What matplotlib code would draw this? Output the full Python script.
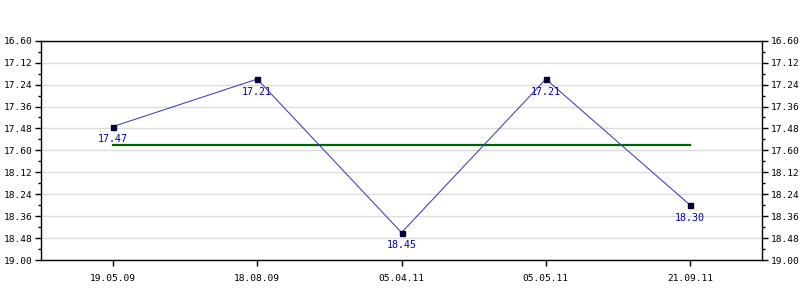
import matplotlib
matplotlib.use('Agg')
import matplotlib.pyplot as plt
from matplotlib.ticker import FixedLocator, MultipleLocator

# data (times as m.ss)
dates = ['19.05.09', '18.08.09', '05.04.11', '05.05.11', '21.09.11']
times = ['17.47', '17.21', '18.45', '17.21', '18.30']

ytick_labels = ['16.60', '17.12', '17.24', '17.36', '17.48', '17.60',
                '18.12', '18.24', '18.36', '18.48', '19.00']
y_min, y_max, y_step = 1020, 1140, 12   # axis in seconds


def to_sec(s):
    m, sec = s.split('.')
    return int(m) * 60 + int(sec)


secs = [to_sec(t) for t in times]
avg = sum(secs) / len(secs)
xs = list(range(len(dates)))

plt.rcParams['font.family'] = 'DejaVu Sans Mono'
fig = plt.figure(figsize=(8, 3), dpi=100)
ax = fig.add_axes([0.0509, 0.1333, 0.902, 0.7310])

ax.plot([xs[0], xs[-1]], [avg, avg], color='#006400', lw=1.6, zorder=2)
ax.plot(xs, secs, color='#3c3cb4', lw=0.75, marker='s', markersize=3.6,
        markerfacecolor='#000033', markeredgecolor='#000033', zorder=3)

for x, y, t in zip(xs, secs, times):
    ax.annotate(t, (x, y), xytext=(0, -9), textcoords='offset points',
                ha='center', va='center', fontsize=7.2, color='#0000aa', zorder=4)

ax.set_xlim(-0.5, 4.5)
ax.set_ylim(y_max, y_min)

yt = list(range(y_min, y_max + 1, y_step))
ax.yaxis.set_major_locator(FixedLocator(yt))
ax.set_yticklabels(ytick_labels)
ax.yaxis.set_minor_locator(MultipleLocator(y_step / 2))
ax.set_xticks(xs)
ax.set_xticklabels(dates)

ax.tick_params(axis='y', which='both', left=True, right=True,
               labelleft=True, labelright=True, direction='out')
ax.tick_params(axis='y', which='major', length=4.5, width=1, labelsize=6.8, pad=1.5)
ax.tick_params(axis='y', which='minor', length=2.5, width=1)
ax.tick_params(axis='x', which='major', length=4, width=1, labelsize=6.8, pad=6)

ax.grid(axis='y', which='major', color='#dcdcdc', lw=1)
ax.set_axisbelow(True)
for sp in ax.spines.values():
    sp.set_linewidth(1)
    sp.set_color('black')

fig.savefig('out.png', dpi=100)
